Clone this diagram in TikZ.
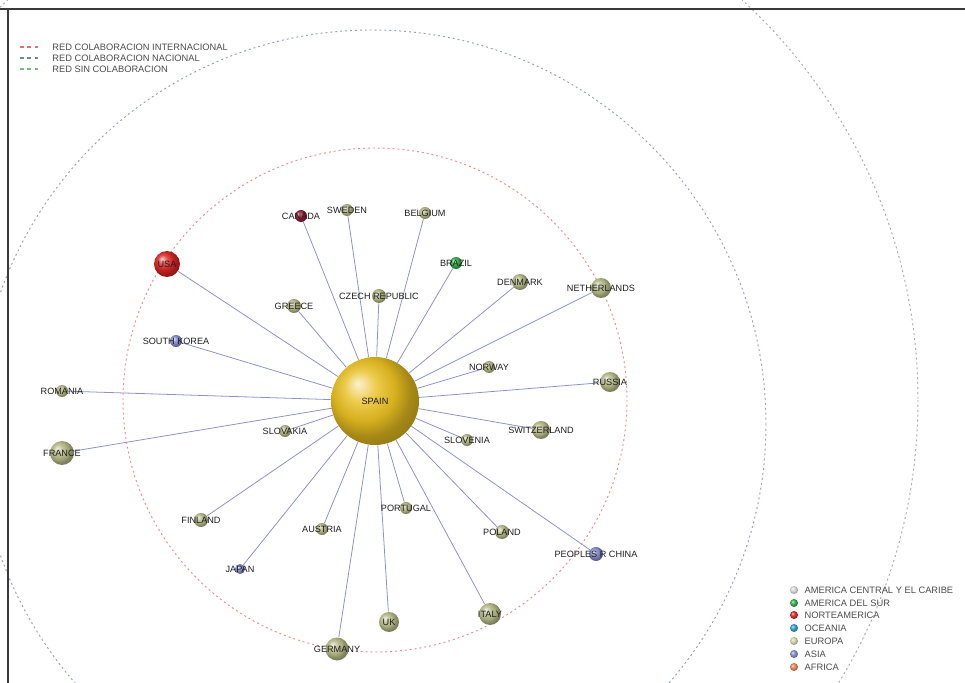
\documentclass[tikz,border=0pt]{standalone}
\usepackage{fontspec}
\setmainfont{Liberation Sans}
\usepackage{tikz}
\usetikzlibrary{backgrounds, positioning, shadings}
\usepackage{xcolor}
\definecolor{ink}     {HTML}{1E1E1E}
\definecolor{frame}   {HTML}{3A3A3A}
\definecolor{edgecol} {HTML}{8C92C8}
\definecolor{ringint} {HTML}{E88E8E}
\definecolor{ringnac} {HTML}{98A0B8}
\definecolor{ringsin} {HTML}{A8A8B0}
\definecolor{keyint}  {HTML}{E07070}
\definecolor{keynac}  {HTML}{6A86A8}
\definecolor{keysin}  {HTML}{78B878}
\definecolor{spain}   {HTML}{E8BE20}
\definecolor{europa}  {HTML}{B4B986}
\definecolor{norte}   {HTML}{D82222}
\definecolor{canada}  {HTML}{951535}
\definecolor{sur}     {HTML}{30AA44}
\definecolor{asia}    {HTML}{8488C6}
\definecolor{caribe}  {HTML}{D8D8D8}
\definecolor{oceania} {HTML}{3098C8}
\definecolor{africa}  {HTML}{E88050}
\definecolor{eurokey} {HTML}{D2D2AC}
\makeatletter
\pgfdeclareradialshading[tikz@ball]{esfera}{\pgfqpoint{-10bp}{10bp}}{%
  color(0bp)=(tikz@ball!20!white); color(9bp)=(tikz@ball!80!white);
  color(18bp)=(tikz@ball!92!black); color(25bp)=(tikz@ball!72!black);
  color(50bp)=(tikz@ball!40!black)}
\makeatother
\newcommand{\lbl}{\fontsize{5.2}{6}\selectfont}
\newcommand{\leg}{\fontsize{5.3}{6}\selectfont}
\tikzset{
  nodo/.style   = {circle, inner sep=0pt, draw=none},
  sph/.style    = {nodo, ball color=#1, shading=esfera},
  eu/.style     = {sph=europa},
  as/.style     = {sph=asia},
  every label/.style = {font=\lbl, text=ink, inner sep=0pt},
  edge/.style   = {draw=edgecol, line width=0.45pt},
  ring/.style   = {line width=0.55pt, dash pattern=on 1.1pt off 1.7pt},
  keyline/.style= {line width=0.6pt, dash pattern=on 2.2pt off 2pt},
  legtxt/.style = {font=\leg, text=ink!80, anchor=west, inner sep=0pt},
  keyball/.style= {sph=#1, minimum size=0.16cm},
}

\begin{document}
\begin{tikzpicture}[x=0.02cm, y=-0.02cm]
  \useasboundingbox (0,0) rectangle (965,683);
  \clip (0,0) rectangle (965,683);

  % rings around the centre
  \draw[ring, ringsin] (375,400) circle (543);
  \draw[ring, ringnac] (372,424) circle (394);
  \draw[ring, ringint] (375,400) circle (252);

  % frame
  \draw[frame, line width=1.2pt] (0,9) -- (965,9);
  \draw[frame, line width=1pt] (8,9) -- (8,683);

  % centre
  \node[sph=spain, minimum size=1.76cm, label=center:SPAIN] (spain) at (375,401) {};

  % collaborators
  \node[sph=norte,  minimum size=0.52cm, label=center:USA]    (usa)    at (167,264) {};
  \node[sph=canada, minimum size=0.24cm, label=center:CANADA] (canada) at (301,216) {};
  \node[sph=sur,    minimum size=0.24cm, label=center:BRAZIL] (brazil) at (456,263) {};
  \node[eu, minimum size=0.24cm, label=center:SWEDEN]         (sweden)   at (347,210) {};
  \node[eu, minimum size=0.24cm, label=center:BELGIUM]        (belgium)  at (425,213) {};
  \node[eu, minimum size=0.28cm, label=center:CZECH REPUBLIC] (czech)    at (379,296) {};
  \node[eu, minimum size=0.28cm, label=center:GREECE]         (greece)   at (294,306) {};
  \node[eu, minimum size=0.32cm, label=center:DENMARK]        (denmark)  at (520,282) {};
  \node[eu, minimum size=0.40cm, label=center:NETHERLANDS]    (nether)   at (601,288) {};
  \node[as, minimum size=0.24cm, label=center:SOUTH KOREA]    (korea)    at (176,341) {};
  \node[eu, minimum size=0.24cm, label=center:NORWAY]         (norway)   at (489,367) {};
  \node[eu, minimum size=0.40cm, label=center:RUSSIA]         (russia)   at (610,382) {};
  \node[eu, minimum size=0.24cm, label=center:ROMANIA]        (romania)  at (62,391)  {};
  \node[eu, minimum size=0.48cm, label=center:FRANCE]         (france)   at (62,453)  {};
  \node[eu, minimum size=0.24cm, label=center:SLOVAKIA]       (slovakia) at (285,431) {};
  \node[eu, minimum size=0.36cm, label=center:SWITZERLAND]    (swiss)    at (541,430) {};
  \node[eu, minimum size=0.24cm, label=center:SLOVENIA]       (slovenia) at (467,440) {};
  \node[eu, minimum size=0.28cm, label=center:FINLAND]        (finland)  at (201,520) {};
  \node[eu, minimum size=0.24cm, label=center:AUSTRIA]        (austria)  at (322,529) {};
  \node[eu, minimum size=0.24cm, label=center:PORTUGAL]       (portugal) at (406,508) {};
  \node[eu, minimum size=0.28cm, label=center:POLAND]         (poland)   at (502,532) {};
  \node[as, minimum size=0.28cm, label=center:PEOPLES R CHINA] (china)   at (596,554) {};
  \node[as, minimum size=0.20cm, label=center:JAPAN]          (japan)    at (240,569) {};
  \node[eu, minimum size=0.40cm, label=center:UK]             (uk)       at (389,622) {};
  \node[eu, minimum size=0.44cm, label=center:ITALY]          (italy)    at (490,614) {};
  \node[eu, minimum size=0.46cm, label=center:GERMANY]        (germany)  at (337,649) {};

  \begin{scope}[on background layer]
    \foreach \n in {usa,canada,brazil,sweden,belgium,czech,greece,denmark,nether,
                    korea,norway,russia,romania,france,slovakia,swiss,slovenia,
                    finland,austria,portugal,poland,china,japan,uk,italy,germany}
      \draw[edge] (spain) -- (\n);
  \end{scope}

  % legend: type of network
  \node[legtxt] (l1) at (52,47) {RED COLABORACION INTERNACIONAL};
  \node[legtxt] (l2) at (52,58) {RED COLABORACION NACIONAL};
  \node[legtxt] (l3) at (52,69) {RED SIN COLABORACION};
  \coordinate (k1) at (20,47);
  \coordinate (k2) at (20,58);
  \coordinate (k3) at (20,69);
  \draw[keyline, keyint, shorten >=8] (k1) -- (l1.west);
  \draw[keyline, keynac, shorten >=8] (k2) -- (l2.west);
  \draw[keyline, keysin, shorten >=8] (k3) -- (l3.west);

  % legend: regions
  \node[keyball=caribe]  (r1) at (794,590) {};
  \node[keyball=sur]     (r2) at (794,603) {};
  \node[keyball=norte]   (r3) at (794,615) {};
  \node[keyball=oceania] (r4) at (794,628) {};
  \node[keyball=eurokey] (r5) at (794,641) {};
  \node[keyball=asia]    (r6) at (794,654) {};
  \node[keyball=africa]  (r7) at (794,667) {};
  \node[legtxt, right=6 of r1] {AMERICA CENTRAL Y EL CARIBE};
  \node[legtxt, right=6 of r2] {AMERICA DEL SUR};
  \node[legtxt, right=6 of r3] {NORTEAMERICA};
  \node[legtxt, right=6 of r4] {OCEANIA};
  \node[legtxt, right=6 of r5] {EUROPA};
  \node[legtxt, right=6 of r6] {ASIA};
  \node[legtxt, right=6 of r7] {AFRICA};
\end{tikzpicture}
\end{document}
